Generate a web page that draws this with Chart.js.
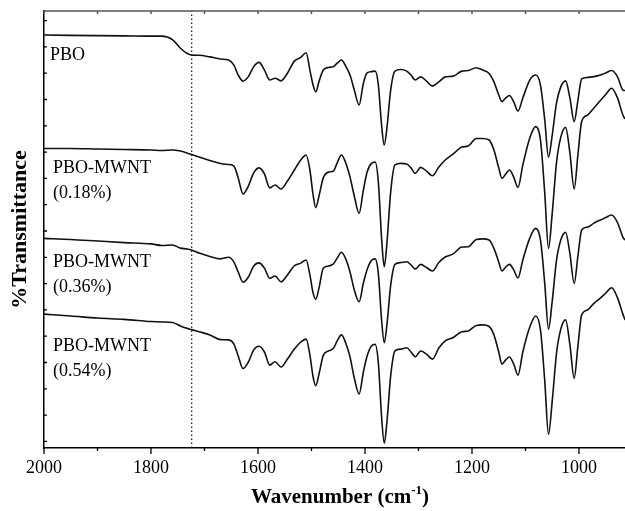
<!DOCTYPE html>
<html>
<head>
<meta charset="utf-8">
<script src="https://cdn.jsdelivr.net/npm/chart.js@4.4.1/dist/chart.umd.min.js"></script>
<style>
html, body { margin: 0; padding: 0; background: #fff; }
#wrap { width: 625px; height: 511px; }
</style>
</head>
<body>
<div id="wrap"><canvas id="chart-ftir" width="625" height="511"></canvas></div>
<script>
// wavenumber grid (cm-1)
var wavenumber = [2000,1950,1900,1850,1800,1780,1760,1745,1733,1724,1710,1690,1670,1655,1645,1637,1628,1618,1608,1598,
  1588,1578,1568,1557,1545,1532,1520,1510,1503,1497,1492,1486,1478,1468,1459,1452,1444,1436,1428,1420,
  1411,1403,1396,1388,1381,1375,1369,1364,1359,1352,1344,1333,1322,1314,1306,1296,1285,1274,1262,1250,
  1235,1219,1207,1192,1180,1168,1159,1150,1144,1137,1130,1122,1114,1105,1092,1081,1072,1064,1057,1050,
  1042,1034,1025,1017,1009,1002,995,984,972,960,950,939,928,918,914];

// %T (offset traces, arbitrary units)
var pbo = [154.5,154.4,154.3,154.2,154.1,154.1,152.8,149.5,147.6,146.9,146.8,146.2,145.4,145.0,143.1,139.3,137.0,138.7,142.5,144.1,
  141.2,137.4,138.1,137.1,140.0,144.6,146.0,147.8,141.2,135.5,132.9,136.8,141.2,142.2,142.5,143.8,145.0,142.7,139.3,133.6,
  127.9,136.2,140.1,140.6,140.8,135.5,120.3,112.7,119.2,133.6,140.8,141.4,140.8,139.3,137.4,138.6,137.0,135.1,136.7,138.6,
  138.9,140.8,141.0,142.1,141.2,139.9,136.7,131.7,129.2,130.6,131.5,129.1,125.6,130.6,137.4,139.3,135.5,122.2,108.1,116.5,
  128.7,134.8,137.1,130.6,121.6,129.8,137.8,138.4,138.7,139.3,140.1,141.0,138.6,133.6,133.4];
var mwnt018 = [111.4,111.4,111.2,111.0,110.8,110.6,110.8,110.4,109.7,109.1,108.1,106.8,105.7,105.3,104.7,100.2,94.1,97.1,102.1,104.0,
  101.7,96.4,97.5,96.0,99.0,103.2,107.0,108.9,103.2,93.7,88.9,93.3,100.2,102.4,102.8,105.9,108.9,105.9,100.5,93.3,
  86.7,95.6,102.4,105.7,106.2,98.6,77.3,66.4,75.4,94.8,105.1,105.7,105.5,104.0,101.9,104.2,102.8,101.0,104.3,107.0,
  109.3,111.9,112.3,115.2,115.2,114.6,110.8,104.0,100.0,101.7,103.2,100.5,96.6,105.1,115.4,119.7,114.6,94.4,73.4,86.8,
  106.1,115.7,119.4,109.7,96.0,109.0,121.6,124.1,126.8,129.6,131.9,134.3,130.6,124.1,122.6];
var mwnt036 = [77.2,76.8,76.2,75.6,75.1,74.5,74.7,73.5,73.2,72.8,71.6,70.3,69.4,70.0,68.2,64.4,60.5,62.5,66.7,67.9,
  65.9,62.0,62.9,60.7,63.3,66.8,67.8,69.0,63.3,56.4,54.1,58.3,65.8,66.7,67.5,69.7,71.9,69.4,64.4,57.6,
  53.1,60.2,65.4,68.8,69.4,63.7,46.2,37.5,44.4,59.3,67.3,68.0,68.3,67.1,65.6,67.3,66.1,64.8,68.0,70.1,
  71.3,73.9,74.0,76.8,77.0,76.6,73.4,68.2,64.8,66.3,67.3,65.2,62.2,69.0,77.3,81.0,76.6,60.0,42.7,53.4,
  68.9,76.6,79.5,71.4,60.1,70.5,80.4,81.5,83.0,84.2,85.1,86.1,83.2,77.7,76.6];
var mwnt054 = [48.4,47.7,46.9,46.4,45.6,45.4,45.2,43.9,43.0,42.5,41.7,40.5,38.7,38.6,37.0,32.5,27.7,30.2,34.8,36.2,
  34.0,29.0,30.3,28.3,31.3,35.1,37.8,38.9,32.9,24.5,21.2,25.6,32.7,34.4,35.4,38.2,40.5,37.4,32.1,24.1,
  18.0,26.4,32.5,36.3,36.9,29.8,9.4,-0.7,7.4,24.9,34.4,35.1,35.6,34.0,32.2,34.4,33.2,31.3,35.5,38.2,
  39.5,41.7,42.0,44.1,44.3,43.7,40.5,34.0,29.4,31.0,32.1,29.4,25.2,34.0,43.5,47.7,42.4,23.0,2.7,15.4,
  33.6,42.7,46.2,36.8,24.0,36.3,48.1,50.0,52.5,54.5,56.4,58.4,54.6,48.4,46.2];

var seriesNames = [["PBO"], ["PBO-MWNT", "(0.18%)"], ["PBO-MWNT", "(0.36%)"], ["PBO-MWNT", "(0.54%)"]];
var markerWavenumber = 1724;
var xTickLabels = [2000, 1800, 1600, 1400, 1200, 1000];
var xMin = 914, xMax = 2000, yMin = -2.5, yMax = 163.65;

function toPoints(ys){
    return wavenumber.map(function(w, i){ return {x: w, y: ys[i]}; });
}

var serif = "'Liberation Serif', 'Times New Roman', serif";

// where each trace name sits (wavenumber, %T of first line)
var labelSpots = [[1989, 146.9], [1983, 103.8], [1983, 68.3], [1983, 36.0]];

var frame = {
    id: 'frame',
    afterDraw: function(chart){
        var ctx = chart.ctx, a = chart.chartArea;
        var sx = chart.scales.x, sy = chart.scales.y;
        ctx.save();
        // top frame line with inward ticks
        ctx.strokeStyle = '#555';
        ctx.lineWidth = 1.5;
        ctx.beginPath();
        ctx.moveTo(a.left, a.top); ctx.lineTo(a.right + 2, a.top);
        sx.ticks.forEach(function(t){
            var px = sx.getPixelForValue(t.value);
            ctx.moveTo(px, a.top); ctx.lineTo(px, a.top + 3);
        });
        ctx.stroke();
        ctx.strokeStyle = '#000';
        ctx.lineWidth = 1.3;
        ctx.beginPath();
        // bottom ticks, outward
        sx.ticks.forEach(function(t){
            var px = sx.getPixelForValue(t.value);
            var len = xTickLabels.indexOf(t.value) >= 0 ? 6 : 3;
            ctx.moveTo(px, a.bottom); ctx.lineTo(px, a.bottom + len);
        });
        // left ticks, inward
        sy.ticks.forEach(function(t){
            var py = sy.getPixelForValue(t.value);
            ctx.moveTo(a.left, py); ctx.lineTo(a.left + 3, py);
        });
        ctx.stroke();

        // trace names
        ctx.fillStyle = '#000';
        ctx.font = '18px ' + serif;
        ctx.textBaseline = 'middle';
        ctx.textAlign = 'left';
        labelSpots.forEach(function(s, i){
            var px = sx.getPixelForValue(s[0]);
            var py = sy.getPixelForValue(s[1]);
            seriesNames[i].forEach(function(line, j){
                ctx.fillText(line, px, py + j * 25);
            });
        });

        // x axis title with superscript
        var main = 'Wavenumber (cm', sup = '-1', tail = ')';
        ctx.font = 'bold 21px ' + serif;
        var w1 = ctx.measureText(main).width, w3 = ctx.measureText(tail).width;
        ctx.font = 'bold 13px ' + serif;
        var w2 = ctx.measureText(sup).width;
        var x0 = 340 - (w1 + w2 + w3) / 2, base = 503;
        ctx.textBaseline = 'alphabetic';
        ctx.font = 'bold 21px ' + serif;
        ctx.fillText(main, x0, base);
        ctx.font = 'bold 13px ' + serif;
        ctx.fillText(sup, x0 + w1, base - 9);
        ctx.font = 'bold 21px ' + serif;
        ctx.fillText(tail, x0 + w1 + w2, base);
        ctx.restore();
    }
};

function traceSet(ys){
    return {
        data: toPoints(ys),
        borderColor: '#111',
        borderWidth: 1.6,
        pointRadius: 0,
        fill: false,
        cubicInterpolationMode: 'monotone'
    };
}

function load(){
    var ctx = document.getElementById('chart-ftir');
    new Chart(ctx, {
        type: 'line',
        data: {
            datasets: [
                traceSet(pbo),
                traceSet(mwnt018),
                traceSet(mwnt036),
                traceSet(mwnt054),
                {
                    data: [{x: markerWavenumber, y: yMin}, {x: markerWavenumber, y: yMax}],
                    borderColor: '#222',
                    borderWidth: 1.3,
                    borderDash: [1.5, 2.5],
                    pointRadius: 0
                }
            ]
        },
        plugins: [frame],
        options: {
            responsive: false,
            animation: false,
            devicePixelRatio: 1,
            layout: { padding: { top: 11, right: 0, left: 0, bottom: 0 } },
            plugins: {
                legend: { display: false },
                tooltip: { enabled: false }
            },
            scales: {
                x: {
                    type: 'linear',
                    reverse: true,
                    min: xMin,
                    max: xMax,
                    afterFit: function(s){ s.height = 63; },
                    border: { display: true, color: '#000', width: 1.5 },
                    grid: { drawOnChartArea: false, drawTicks: true, tickLength: 6, color: 'rgba(0,0,0,0)' },
                    ticks: {
                        stepSize: 100,
                        includeBounds: false,
                        autoSkip: false,
                        maxRotation: 0,
                        padding: 3,
                        color: '#000',
                        font: { family: serif, size: 18 },
                        callback: function(v){ return xTickLabels.indexOf(v) >= 0 ? String(v) : ''; }
                    },
                    title: { display: false }
                },
                y: {
                    min: yMin,
                    max: yMax,
                    afterFit: function(s){ s.width = 44; },
                    border: { display: true, color: '#000', width: 1.5 },
                    grid: { drawOnChartArea: false, drawTicks: false },
                    ticks: { display: false, stepSize: 10, includeBounds: false },
                    title: {
                        display: true,
                        text: '%Transmittance',
                        color: '#000',
                        font: { family: serif, size: 22, weight: 'bold' },
                        padding: { top: 7, bottom: 0 }
                    }
                }
            }
        }
    });
}
load();
</script>
</body>
</html>
